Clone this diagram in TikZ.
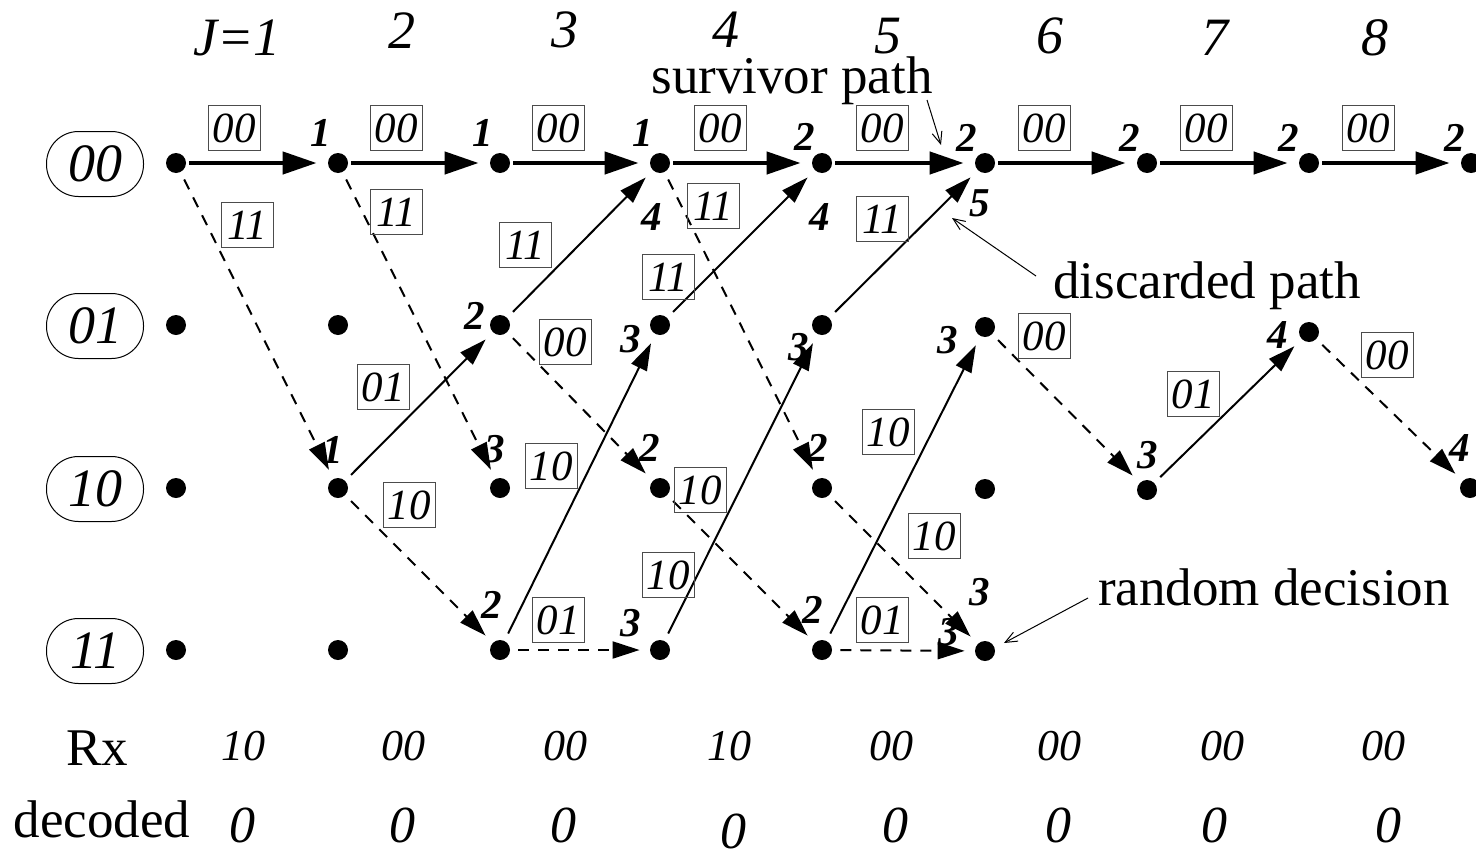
\documentclass[tikz,border=0pt]{standalone}
\usepackage{fontspec}
\setmainfont{Liberation Serif}
\usetikzlibrary{arrows.meta}
\begin{document}
\begin{tikzpicture}[x=0.5pt,y=-0.5pt,
  dot/.style={circle,fill=black,inner sep=0pt,minimum size=10pt},
  thickarr/.style={line width=2.2pt,-{Triangle[length=17pt,width=11pt]},shorten <=1.5pt,shorten >=5.5pt},
  solidarr/.style={line width=1pt,-{Triangle[length=13.5pt,width=8.5pt]},shorten <=4pt,shorten >=5pt},
  dasharr/.style={solidarr,dash pattern=on 5.5pt off 4.5pt},
  lbl/.style={draw=black!70,line width=0.5pt,inner sep=0pt,minimum width=26pt,minimum height=22.5pt,font=\fontsize{21.5}{21.5}\selectfont\itshape},
  metric/.style={inner sep=0pt,font=\fontsize{20.5}{20.5}\selectfont\bfseries\itshape},
  statebox/.style={draw,line width=0.5pt,rounded corners=16pt,minimum width=48.5pt,minimum height=32.5pt,inner sep=0pt,font=\fontsize{27}{27}\selectfont\itshape},
  hdr/.style={anchor=base,inner sep=0pt,font=\fontsize{27}{27}\selectfont\itshape},
  note/.style={anchor=base,inner sep=0pt,font=\fontsize{26.5}{26.5}\selectfont},
  rxval/.style={anchor=base,inner sep=0pt,font=\fontsize{22}{22}\selectfont\itshape},
  decval/.style={anchor=base,inner sep=0pt,font=\fontsize{26}{26}\selectfont\itshape},
  pointer/.style={line width=0.5pt,-{Straight Barb[length=6pt,width=5pt]}}
]
\useasboundingbox (0,0) rectangle (1476,851);

% state labels
\node[statebox] (st0) at (95,164) {00};
\node[statebox] (st1) at (95,326) {01};
\node[statebox] (st2) at (95,489) {10};
\node[statebox] (st3) at (95,651) {11};

% column headers
\node[hdr] (h1) at (237,55) {J=1};
\node[hdr] (h2) at (402,48) {2};
\node[hdr] (h3) at (565,47) {3};
\node[hdr] (h4) at (726,47) {4};
\node[hdr] (h5) at (888,53) {5};
\node[hdr] (h6) at (1050,53) {6};
\node[hdr] (h7) at (1215,55) {7};
\node[hdr] (h8) at (1375,55) {8};

% trellis dots
\foreach \c/\x in {1/176,2/338,3/500,4/660,5/822}{
  \foreach \r/\y in {0/163,1/325,2/488,3/650}{
    \node[dot] (s\c-\r) at (\x,\y) {};
  }
}
\node[dot] (s6-0) at (985,163) {};
\node[dot] (s6-1) at (985,327) {};
\node[dot] (s6-2) at (985,489) {};
\node[dot] (s6-3) at (985,651) {};
\node[dot] (s7-0) at (1147,163) {};
\node[dot] (s7-2) at (1147,490) {};
\node[dot] (s8-0) at (1309,163) {};
\node[dot] (s8-1) at (1309,332) {};
\node[dot] (s9-0) at (1471,163) {};
\node[dot] (s9-2) at (1470,488) {};

% survivor row
\foreach \i/\j in {1/2,2/3,3/4,4/5,5/6,6/7,7/8,8/9}{
  \draw[thickarr] (s\i-0) -- (s\j-0);
}

% dashed branches
\draw[dasharr] (s1-0) -- (s2-2);
\draw[dasharr] (s2-0) -- (s3-2);
\draw[dasharr] (s2-2) -- (s3-3);
\draw[dasharr] (s3-1) -- (s4-2);
\draw[dasharr] (s3-3) -- (s4-3);
\draw[dasharr] (s4-0) -- (s5-2);
\draw[dasharr] (s4-2) -- (s5-3);
\draw[dasharr] (s5-2) -- (s6-3);
\draw[dasharr] (s5-3) -- (s6-3);
\draw[dasharr] (s6-1) -- (s7-2);
\draw[dasharr] (s8-1) -- (s9-2);

% solid branches
\draw[solidarr] (s2-2) -- (s3-1);
\draw[solidarr] (s3-1) -- (s4-0);
\draw[solidarr] (s3-3) -- (s4-1);
\draw[solidarr] (s4-1) -- (s5-0);
\draw[solidarr] (s4-3) -- (s5-1);
\draw[solidarr] (s5-1) -- (s6-0);
\draw[solidarr] (s5-3) -- (s6-1);
\draw[solidarr] (s7-2) -- (s8-1);

% branch output labels
\foreach \x [count=\k] in {234,396,558,720,882,1044,1206,1368}{
  \node[lbl] (la\k) at (\x,128) {00};
}
\node[lbl] (lb1) at (247,225) {11};
\node[lbl] (lb2) at (396,212) {11};
\node[lbl] (lb3) at (525,245) {11};
\node[lbl] (lb4) at (713,206) {11};
\node[lbl] (lb5) at (668,277) {11};
\node[lbl] (lb6) at (882,219) {11};
\node[lbl] (lc1) at (383,387) {01};
\node[lbl] (lc2) at (558,620) {01};
\node[lbl] (lc3) at (882,620) {01};
\node[lbl] (lc4) at (1193,394) {01};
\node[lbl] (ld1) at (409,505) {10};
\node[lbl] (ld2) at (551,466) {10};
\node[lbl] (ld3) at (700,490) {10};
\node[lbl] (ld4) at (668,575) {10};
\node[lbl] (ld5) at (888,432) {10};
\node[lbl] (ld6) at (934,536) {10};
\node[lbl] (le1) at (565,342) {00};
\node[lbl] (le2) at (1044,336) {00};
\node[lbl] (le3) at (1387,355) {00};

% path metrics
\foreach \x/\y/\t [count=\k] in {321/133/1,483/133/1,643/133/1,805/137/2,967/138/2,1130/138/2,1289/138/2,1455/138/2,
  652/217/4,820/217/4,980/203/5,
  475/316/2,631/339/3,799/347/3,948/340/3,1278/335/4,
  333/450/1,495/449/3,650/448/2,818/448/2,1148/455/3,1460/448/4,
  492/605/2,631/623/3,813/610/2,980/592/3,949/632/3}{
  \node[metric] (m\k) at (\x,\y) {\t};
}

% annotations
\node[note] (tsurv) at (792,93) {survivor path};
\node[note] (tdisc) at (1207,298) {discarded path};
\node[note] (trand) at (1274,605) {random decision};
\coordinate (sp1) at (927,100);
\coordinate (sp2) at (941,145);
\coordinate (dp1) at (1036,276);
\coordinate (dp2) at (952,218);
\coordinate (rd1) at (1088,598);
\coordinate (rd2) at (1004,643);
\draw[pointer] (sp1) -- (sp2);
\draw[pointer] (dp1) -- (dp2);
\draw[pointer] (rd1) -- (rd2);

% received and decoded rows
\node[note] (rx) at (97,765) {Rx};
\node[note] (dec) at (102,837) {decoded};
\foreach \x/\t [count=\k] in {243/10,403/00,565/00,729/10,891/00,1059/00,1222/00,1383/00}{
  \node[rxval] (r\k) at (\x,760) {\t};
}
\foreach \x/\y [count=\k] in {242/842,402/842,563/842,733/848,895/842,1058/842,1214/842,1388/842}{
  \node[decval] (o\k) at (\x,\y) {0};
}
\end{tikzpicture}
\end{document}
